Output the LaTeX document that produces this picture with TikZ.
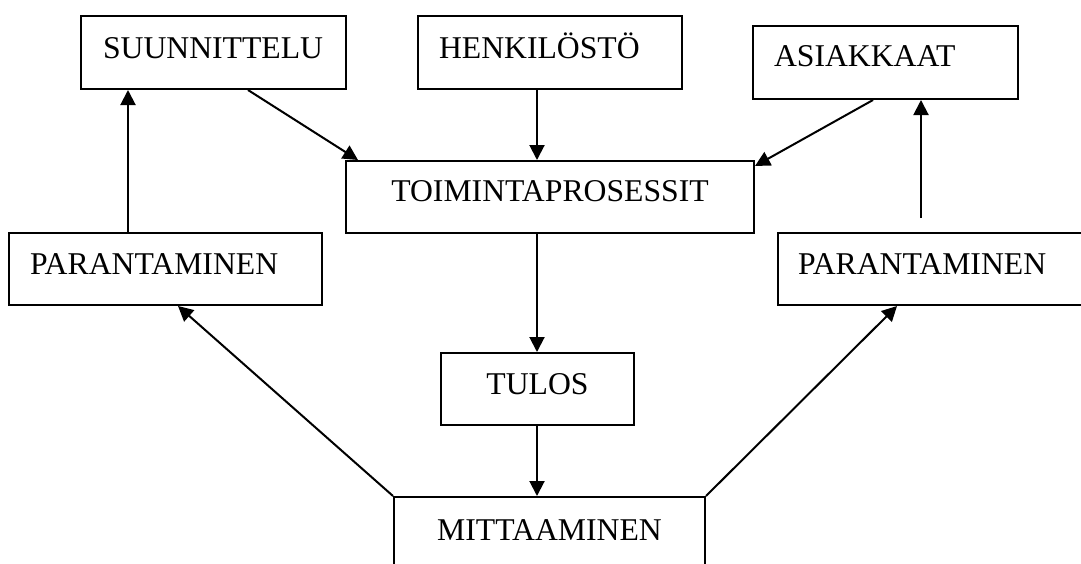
\documentclass[tikz,border=0pt]{standalone}
\usepackage{fontspec}
\setmainfont{Liberation Serif}
\usetikzlibrary{arrows.meta}
\tikzset{
  box/.style={draw, line width=2pt, inner sep=0pt, anchor=north west,
    font=\fontsize{31.7}{36}\selectfont},
  lbox/.style={box, align=left},
  cbox/.style={box, align=center},
  arr/.style={line width=2pt, -{Triangle[length=15pt,width=15pt]}}
}
\begin{document}
\begin{tikzpicture}[x=1pt,y=-1pt]
\useasboundingbox (0,0) rectangle (1081,563);
\clip (0,0) rectangle (1081,563);
% boxes
\node[lbox, text width=265pt, text height=42pt, text depth=31pt] (su) at (80,15) {\hspace*{22pt}SUUNNITTELU};
\node[lbox, text width=264pt, text height=42pt, text depth=31pt] (hk) at (417,15) {\hspace*{21pt}HENKILÖSTÖ};
\node[lbox, text width=265pt, text height=40pt, text depth=33pt] (as) at (752,25) {\hspace*{21pt}ASIAKKAAT};
\node[cbox, text width=408pt, text height=40pt, text depth=32pt] (to) at (345,160) {TOIMINTAPROSESSIT};
\node[lbox, text width=313pt, text height=41pt, text depth=31pt] (pl) at (8,232) {\hspace*{21pt}PARANTAMINEN};
\node[lbox, text width=313pt, text height=41pt, text depth=31pt] (pr) at (777,232) {\hspace*{20pt}PARANTAMINEN};
\node[cbox, text width=193pt, text height=41pt, text depth=31pt] (tu) at (440,352) {TULOS};
\node[cbox, text width=311pt, text height=43pt, text depth=40pt] (mi) at (393,496) {MITTAAMINEN};
\coordinate (prtop) at (921,218);
% connectors
\draw[arr] ([xshift=120pt]pl.north west) -- ([xshift=48pt]su.south west);
\draw[arr] ([xshift=168pt]su.south west) -- ([xshift=13pt]to.north west);
\draw[arr] ([xshift=120pt]hk.south west) -- ([xshift=192pt]to.north west);
\draw[arr] ([xshift=121pt]as.south west) -- ([yshift=-6pt]to.north east);
\draw[arr] ([xshift=192pt]to.south west) -- ([xshift=97pt]tu.north west);
\draw[arr] ([xshift=97pt]tu.south west) -- ([xshift=144pt]mi.north west);
\draw[arr] (mi.north west) -- ([xshift=170pt]pl.south west);
\draw[arr] (mi.north east) -- ([xshift=120pt]pr.south west);
\draw[arr] (prtop) -- ([xshift=169pt]as.south west);
\end{tikzpicture}
\end{document}
